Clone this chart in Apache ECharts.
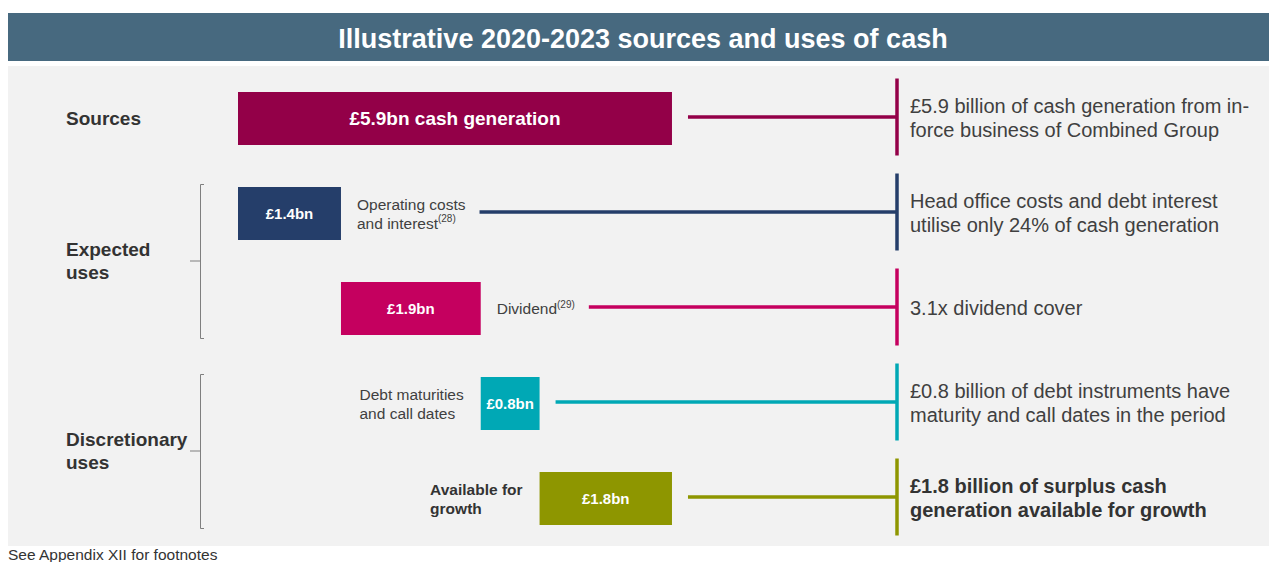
<!DOCTYPE html>
<html><head><meta charset="utf-8">
<script src="https://cdn.jsdelivr.net/npm/echarts@6/dist/echarts.min.js"></script>
<style>html,body{margin:0;padding:0;background:#fff}#c{width:1269px;height:562px}</style>
</head><body><div id="c"></div>
<script>
// ---- data ----
const titleText = 'Illustrative 2020-2023 sources and uses of cash';
const categories = ['Cash generation', 'Operating costs and interest', 'Dividend', 'Debt maturities and call dates', 'Available for growth'];
const values = [5.9, 1.4, 1.9, 0.8, 1.8];
const barLabels = ['£5.9bn cash generation', '£1.4bn', '£1.9bn', '£0.8bn', '£1.8bn'];
const sideLabels = ['', 'Operating costs\nand interest', 'Dividend', 'Debt maturities\nand call dates', 'Available for\ngrowth'];
const sideNotes = ['', '(28)', '(29)', '', ''];
const commentary = [
  '£5.9 billion of cash generation from in-\nforce business of Combined Group',
  'Head office costs and debt interest\nutilise only 24% of cash generation',
  '3.1x dividend cover',
  '£0.8 billion of debt instruments have\nmaturity and call dates in the period',
  '£1.8 billion of surplus cash\ngeneration available for growth'
];
const groupNames = ['Sources', 'Expected\nuses', 'Discretionary\nuses'];
const groupFirstRow = [0, 1, 3];
const groupLastRow = [0, 2, 4];
const footnote = 'See Appendix XII for footnotes';

// waterfall bases: source row starts at 0, uses accumulate
const base = values.map((v, i) => i === 0 ? 0 : values.slice(1, i).reduce((a, b) => a + b, 0));

// ---- style ----
const FONT = "'Liberation Sans', Arial, sans-serif";
const colors = ['#930048', '#253e6a', '#c5005f', '#00a8b5', '#8e9600'];
const sideOnRight = [false, true, true, false, false];
const boldRow = [false, false, false, false, true];
const commentX = 897;
const SIDE_FS = 15.5, NOTE_FS = 10;

const mctx = document.createElement('canvas').getContext('2d');
function measure(t, font) { mctx.font = font; return mctx.measureText(t).width; }

function renderRow(params, api) {
  const i = params.dataIndex;
  const start = api.coord([base[i], i]);
  const end = api.coord([base[i] + values[i], i]);
  const y = end[1];
  const children = [];
  let lineStart = end[0] + 16;
  if (sideLabels[i]) {
    const fw = boldRow[i] ? 'bold' : 'normal';
    const font = fw + ' ' + SIDE_FS + 'px ' + FONT;
    const lines = sideLabels[i].split('\n');
    const w = Math.max(...lines.map((l, k) => measure(l, font) +
      (k === lines.length - 1 && sideNotes[i] ? measure(sideNotes[i], NOTE_FS + 'px ' + FONT) : 0)));
    const x = sideOnRight[i] ? end[0] + 16 : start[0] - 17 - w;
    const text = lines.map((l, k) => '{m|' + l + '}' +
      (k === lines.length - 1 && sideNotes[i] ? '{s|' + sideNotes[i] + '}' : '')).join('\n');
    const col = boldRow[i] ? '#333333' : '#404040';
    children.push({
      type: 'text',
      style: {
        text: text, x: x, y: y, align: 'left', verticalAlign: 'middle',
        rich: {
          m: { fontSize: SIDE_FS, fontWeight: fw, fontFamily: FONT, fill: col, lineHeight: 19 },
          s: { fontSize: NOTE_FS, fontFamily: FONT, fill: col, lineHeight: 19, verticalAlign: 'top' }
        }
      }
    });
    if (sideOnRight[i]) lineStart = x + w + 14;
  }
  children.push({
    type: 'line', shape: { x1: lineStart, y1: y - 1.5, x2: commentX, y2: y - 1.5 },
    style: { stroke: colors[i], lineWidth: 3.5 }
  });
  children.push({
    type: 'line', shape: { x1: commentX, y1: y - 40, x2: commentX, y2: y + 37 },
    style: { stroke: colors[i], lineWidth: 3.5 }
  });
  children.push({
    type: 'text',
    style: {
      text: commentary[i], x: commentX + 13, y: y - 1, align: 'left', verticalAlign: 'middle',
      fontSize: 20, fontFamily: FONT, fontWeight: boldRow[i] ? 'bold' : 'normal',
      fill: boldRow[i] ? '#333333' : '#404040', lineHeight: 24
    }
  });
  return { type: 'group', children: children };
}

function renderGroup(params, api) {
  const k = params.dataIndex;
  const y1 = api.coord([0, groupFirstRow[k]])[1];
  const y2 = api.coord([0, groupLastRow[k]])[1];
  const ym = (y1 + y2) / 2;
  const children = [{
    type: 'text',
    style: {
      text: groupNames[k], x: 66, y: ym, align: 'left', verticalAlign: 'middle',
      fontSize: 19, fontWeight: 'bold', fontFamily: FONT, fill: '#333333', lineHeight: 23
    }
  }];
  if (groupFirstRow[k] !== groupLastRow[k]) {
    children.push({
      type: 'polyline',
      shape: { points: [[204, y1 - 29], [200.5, y1 - 29], [200.5, y2 + 30], [204, y2 + 30]] },
      style: { stroke: '#7f7f7f', lineWidth: 1, fill: null }
    });
    children.push({
      type: 'line', shape: { x1: 190, y1: ym, x2: 200.5, y2: ym },
      style: { stroke: '#7f7f7f', lineWidth: 1 }
    });
  }
  return { type: 'group', children: children };
}

const chart = echarts.init(document.getElementById('c'), null, { renderer: 'svg' });
chart.setOption({
  animation: false,
  title: {
    text: titleText, left: 643, top: 25, textAlign: 'center', padding: 0,
    textStyle: { color: '#ffffff', fontSize: 27, fontWeight: 'bold', fontFamily: FONT }
  },
  graphic: [
    { type: 'rect', z: -10, shape: { x: 8, y: 13, width: 1261, height: 48 }, style: { fill: '#47697f' } },
    { type: 'rect', z: -10, shape: { x: 8, y: 66, width: 1261, height: 480 }, style: { fill: '#f2f2f2' } },
    { type: 'text', z: 5, x: 8, y: 562, style: { text: footnote, fontSize: 15.5, fontFamily: FONT, fill: '#333333', verticalAlign: 'bottom' } }
  ],
  grid: { left: 238, right: 369, top: 71, height: 475, containLabel: false },
  xAxis: { type: 'value', min: 0, max: 9, show: false, splitLine: { show: false } },
  yAxis: { type: 'category', data: categories, inverse: true, show: false },
  series: [
    {
      type: 'bar', stack: 'w', barWidth: 53, silent: true,
      itemStyle: { color: 'transparent' },
      data: base
    },
    {
      type: 'bar', stack: 'w', barWidth: 53,
      data: values.map((v, i) => ({
        value: v,
        itemStyle: { color: colors[i] },
        label: {
          show: true, position: 'inside', formatter: barLabels[i],
          color: '#ffffff', fontWeight: 'bold', fontFamily: FONT, fontSize: i === 0 ? 19 : 15
        }
      }))
    },
    {
      type: 'custom', renderItem: renderRow, clip: false, silent: true,
      encode: { x: 0, y: 1 },
      data: values.map((v, i) => [base[i] + v, i])
    },
    {
      type: 'custom', renderItem: renderGroup, clip: false, silent: true,
      encode: { x: 0, y: 1 },
      data: groupNames.map((n, k) => [0, groupFirstRow[k], groupLastRow[k]])
    }
  ]
});
</script>
</body></html>
